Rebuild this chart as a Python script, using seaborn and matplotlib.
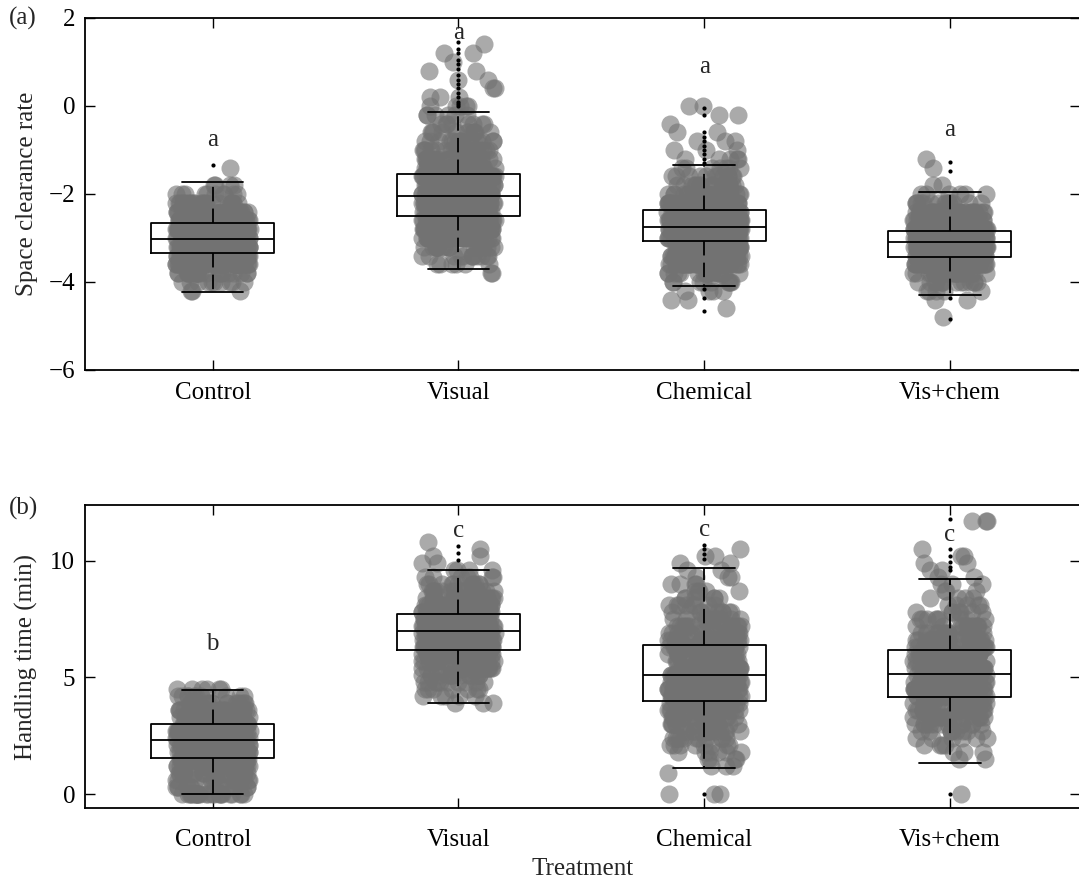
import numpy as np
import pandas as pd
import matplotlib
matplotlib.use("Agg")
import matplotlib.pyplot as plt
import seaborn as sns

sns.set_theme(style="ticks")
plt.rcParams["font.family"] = ["Liberation Serif", "DejaVu Serif"]
plt.rcParams["axes.unicode_minus"] = True

treatments = ["Control", "Visual", "Chemical", "Vis+chem"]

# ---------------- panel (a): space clearance rate ----------------
grid_a = [-4.8, -4.6, -4.4, -4.2, -4.0, -3.8, -3.6, -3.4, -3.2, -3.0, -2.8,
          -2.6, -2.4, -2.2, -2.0, -1.8, -1.6, -1.4, -1.2, -1.0, -0.8, -0.6,
          -0.4, -0.2, 0.0, 0.2, 0.4, 0.6, 0.8, 1.0, 1.2, 1.4]
cnt_a_control = [0, 0, 0, 3, 10, 22, 40, 58, 72, 80, 74, 58, 38, 22, 10, 4,
                 0, 1, 0, 0, 0, 0, 0, 0, 0, 0, 0, 0, 0, 0, 0, 0]
cnt_a_visual = [0, 0, 0, 0, 0, 2, 6, 12, 20, 30, 40, 48, 54, 56, 56, 52, 46,
                38, 30, 22, 16, 11, 8, 6, 5, 3, 2, 2, 2, 1, 2, 1]
cnt_a_chemical = [0, 1, 2, 4, 9, 18, 30, 46, 62, 74, 80, 74, 60, 44, 30, 20,
                  12, 7, 5, 3, 3, 2, 1, 2, 2, 0, 0, 0, 0, 0, 0, 0]
cnt_a_vischem = [1, 0, 2, 5, 14, 28, 48, 68, 82, 84, 70, 50, 30, 15, 6, 2,
                 0, 1, 1, 0, 0, 0, 0, 0, 0, 0, 0, 0, 0, 0, 0, 0]

# box statistics
q1_a = [-3.35, -2.50, -3.06, -3.44]
med_a = [-3.02, -2.05, -2.75, -3.10]
q3_a = [-2.67, -1.55, -2.36, -2.83]
wlo_a = [-4.22, -3.70, -4.09, -4.30]
whi_a = [-1.73, -0.14, -1.34, -1.95]
out_a_control = [-1.33]
out_a_visual = [0.0, 0.05, 0.1, 0.2, 0.3, 0.4, 0.5, 0.6, 0.7, 0.85, 0.95,
                1.05, 1.2, 1.3, 1.45]
out_a_chemical = [-0.05, -0.2, -0.58, -0.7, -0.8, -0.9, -1.0, -1.1, -1.2,
                  -1.3, -4.16, -4.37, -4.65]
out_a_vischem = [-1.28, -1.47, -4.37, -4.83]
letters_a = ["a", "a", "a", "a"]
letter_y_a = [-0.77, 1.66, 0.89, -0.55]

# ---------------- panel (b): handling time ----------------
grid_b = [0.0, 0.3, 0.6, 0.9, 1.2, 1.5, 1.8, 2.1, 2.4, 2.7, 3.0, 3.3, 3.6,
          3.9, 4.2, 4.5, 4.8, 5.1, 5.4, 5.7, 6.0, 6.3, 6.6, 6.9, 7.2, 7.5,
          7.8, 8.1, 8.4, 8.7, 9.0, 9.3, 9.6, 9.9, 10.2, 10.5, 10.8, 11.1,
          11.4, 11.7, 12.0]
cnt_b_control = [25, 12, 16, 22, 28, 34, 40, 46, 48, 46, 40, 32, 24, 16, 10,
                 6, 0, 0, 0, 0, 0, 0, 0, 0, 0, 0, 0, 0, 0, 0, 0, 0, 0, 0, 0,
                 0, 0, 0, 0, 0, 0]
cnt_b_visual = [0, 0, 0, 0, 0, 0, 0, 0, 0, 0, 0, 0, 0, 3, 5, 7, 10, 14, 19,
                25, 31, 37, 42, 45, 44, 40, 35, 29, 22, 16, 11, 7, 4, 2, 2,
                1, 1, 0, 0, 0, 0]
cnt_b_chemical = [3, 0, 0, 1, 3, 4, 6, 8, 11, 14, 18, 21, 25, 28, 31, 33,
                  34, 34, 33, 31, 28, 25, 21, 18, 15, 12, 10, 8, 6, 5, 4, 3,
                  2, 2, 2, 1, 0, 0, 0, 0, 0]
cnt_b_vischem = [1, 0, 0, 0, 0, 2, 3, 4, 6, 9, 13, 17, 22, 27, 31, 34, 35,
                 35, 34, 31, 27, 23, 19, 15, 12, 9, 7, 5, 4, 3, 3, 2, 2, 2,
                 2, 1, 0, 0, 0, 3, 0]

q1_b = [1.56, 6.18, 4.00, 4.15]
med_b = [2.32, 6.98, 5.09, 5.17]
q3_b = [2.99, 7.74, 6.40, 6.20]
wlo_b = [0.00, 3.90, 1.10, 1.35]
whi_b = [4.46, 9.61, 9.70, 9.23]
out_b_control = []
out_b_visual = [10.06, 10.34, 10.63]
out_b_chemical = [10.1, 10.3, 10.5, 10.7, 0.0]
out_b_vischem = [11.8, 10.5, 10.2, 9.95, 9.75, 9.6, 0.0]
letters_b = ["b", "c", "c", "c"]
letter_y_b = [6.45, 11.3, 11.35, 11.1]

FS = 18


def cloud_frame(grid, counts_list):
    rows = []
    for name, cnts in zip(treatments, counts_list):
        vals = np.repeat(np.asarray(grid, float), cnts)
        rows.append(pd.DataFrame({"Treatment": name, "value": vals}))
    return pd.concat(rows, ignore_index=True)


def outlier_frame(out_list):
    rows = []
    for name, vals in zip(treatments, out_list):
        rows.append(pd.DataFrame({"Treatment": name, "value": np.asarray(vals, float)}))
    return pd.concat(rows, ignore_index=True)


def draw_panel(ax, grid, counts_list, q1, med, q3, wlo, whi, outs, letters,
               letter_y, ylim, yticks, ylabel):
    np.random.seed(5)
    df = cloud_frame(grid, counts_list)
    sns.stripplot(data=df, x="Treatment", y="value", order=treatments,
                  color="#727272", alpha=0.6, size=13, jitter=0.15,
                  linewidth=0, ax=ax, zorder=1)
    stats = []
    for i in range(len(treatments)):
        stats.append(dict(q1=q1[i], med=med[i], q3=q3[i], whislo=wlo[i],
                          whishi=whi[i], fliers=[]))
    ax.bxp(stats, positions=range(len(treatments)), widths=0.5,
           capwidths=0.25, showfliers=False, patch_artist=False,
           boxprops=dict(color="black", lw=1.3),
           medianprops=dict(color="black", lw=1.3),
           whiskerprops=dict(color="black", lw=1.3, linestyle=(0, (8, 4))),
           capprops=dict(color="black", lw=1.3),
           manage_ticks=False, zorder=3)
    odf = outlier_frame(outs)
    sns.stripplot(data=odf, x="Treatment", y="value", order=treatments,
                  color="black", size=3, jitter=False, linewidth=0, ax=ax,
                  zorder=4)
    for i, (t, yv) in enumerate(zip(letters, letter_y)):
        ax.text(i, yv, t, ha="center", va="center", fontsize=FS, zorder=5)
    ax.set_xlim(-0.52, 3.53)
    ax.set_ylim(*ylim)
    ax.set_yticks(yticks)
    ax.set_ylabel(ylabel, fontsize=FS)
    ax.yaxis.set_label_coords(-0.047, 0.5)
    ax.tick_params(direction="in", top=True, right=True, length=7, width=1,
                   labelsize=FS, colors="black")
    ax.tick_params(axis="y", pad=7)
    for s in ax.spines.values():
        s.set_visible(True)
        s.set_linewidth(1.3)
        s.set_color("black")


fig = plt.figure(figsize=(10.79, 8.82), dpi=100)
ax1 = fig.add_axes([0.0788, 0.5805, 0.9222, 0.3991])
ax2 = fig.add_axes([0.0788, 0.0839, 0.9222, 0.3435])

draw_panel(ax1, grid_a,
           [cnt_a_control, cnt_a_visual, cnt_a_chemical, cnt_a_vischem],
           q1_a, med_a, q3_a, wlo_a, whi_a,
           [out_a_control, out_a_visual, out_a_chemical, out_a_vischem],
           letters_a, letter_y_a, (-6, 2), [-6, -4, -2, 0, 2],
           "Space clearance rate")
ax1.set_xlabel("")
ax1.tick_params(axis="x", pad=9)

draw_panel(ax2, grid_b,
           [cnt_b_control, cnt_b_visual, cnt_b_chemical, cnt_b_vischem],
           q1_b, med_b, q3_b, wlo_b, whi_b,
           [out_b_control, out_b_visual, out_b_chemical, out_b_vischem],
           letters_b, letter_y_b, (-0.6, 12.4), [0, 5, 10],
           "Handling time (min)")
ax2.tick_params(axis="x", pad=15)
ax2.set_xlabel("Treatment", fontsize=FS)
ax2.xaxis.set_label_coords(0.5, -0.165)

fig.text(0.008, 0.979, "(a)", fontsize=FS, va="center", ha="left")
fig.text(0.008, 0.424, "(b)", fontsize=FS, va="center", ha="left")

fig.savefig("out.png", dpi=100)
